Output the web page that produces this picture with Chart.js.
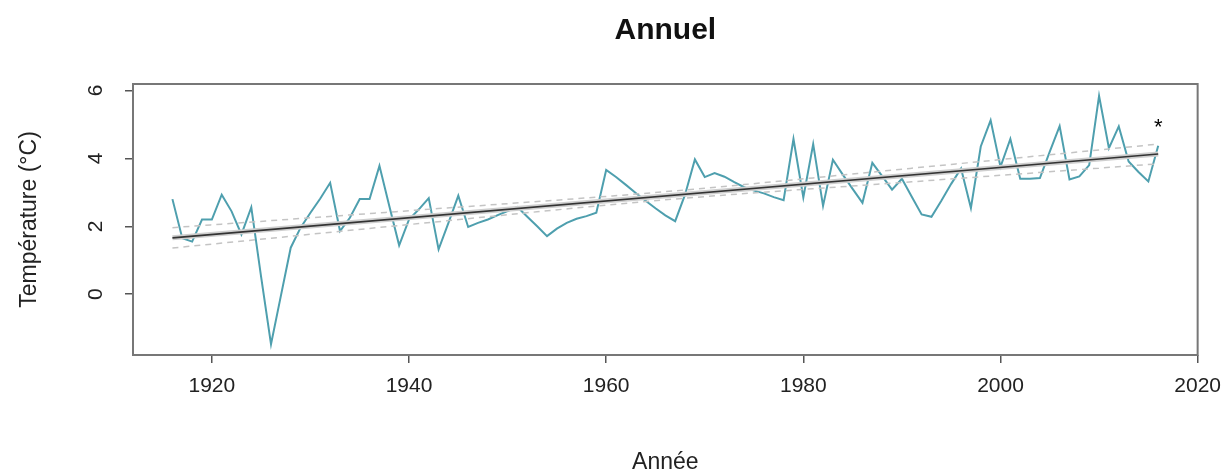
<!DOCTYPE html>
<html>
<head>
<meta charset="utf-8">
<script src="https://cdn.jsdelivr.net/npm/chart.js@4"></script>
<style>
  html, body { margin: 0; padding: 0; background: #fff; }
  #wrap { width: 1232px; height: 474px; }
</style>
</head>
<body>
<div id="wrap"><canvas id="chartbox" width="1232" height="474"></canvas></div>
<script>
// annual temperature, one value per year from firstYear
const firstYear = 1916
const temps = [
  2.80, 1.65, 1.55, 2.20, 2.20, 2.93, 2.44, 1.76, 2.56, 0.50,   // 1916-1925
  -1.47, -0.05, 1.37, 1.96, 2.40, 2.82, 3.28, 1.86, 2.25, 2.80, // 1926-1935
  2.80, 3.78, 2.60, 1.44, 2.20, 2.50, 2.83, 1.32, 2.10, 2.90,   // 1936-1945
  1.98, 2.10, 2.20, 2.33, 2.45, 2.57, 2.28, 2.00, 1.71, 1.93,   // 1946-1955
  2.10, 2.22, 2.30, 2.40, 3.66, 3.45, 3.22, 2.98, 2.75, 2.53,   // 1956-1965
  2.32, 2.15, 2.93, 3.97, 3.45, 3.57, 3.46, 3.30, 3.15, 3.05,   // 1966-1975
  2.97, 2.86, 2.77, 4.57, 2.85, 4.42, 2.60, 3.96, 3.52, 3.10,   // 1976-1985
  2.69, 3.87, 3.48, 3.08, 3.40, 2.87, 2.35, 2.28, 2.75, 3.25,   // 1986-1995
  3.70, 2.54, 4.35, 5.12, 3.75, 4.57, 3.40, 3.40, 3.42, 4.20,   // 1996-2005
  4.95, 3.38, 3.47, 3.80, 5.84, 4.30, 4.94, 3.91, 3.60, 3.32,   // 2006-2015
  4.37                                                          // 2016
]
const years = temps.map((t, i) => firstYear + i)

// linear trend and its confidence band
const trendYears = [1916, 2016]
const trendValues = [1.66, 4.13]
const bandYears = [1916, 1941, 1966, 1991, 2016]
const bandUpper = [1.96, 2.48, 3.02, 3.71, 4.42]
const bandLower = [1.36, 2.08, 2.78, 3.31, 3.84]

const xTicks = [1920, 1940, 1960, 1980, 2000, 2020]
const yTicks = [0, 2, 4, 6]
const xRange = [1912, 2020]
const yRange = [-1.79, 6.19]
const starMark = { year: 2016, value: 4.89, text: '*' }

const FONT = "'Liberation Sans', Arial, Helvetica, sans-serif"
const TEXT = '#222'

const toPoints = (xs, ys) => xs.map((x, i) => ({ x, y: ys[i] }))

const boxPlugin = {
  id: 'box',
  afterDatasetsDraw(chart) {
    const { ctx, chartArea: a, scales } = chart
    ctx.save()
    ctx.strokeStyle = '#777'
    ctx.lineWidth = 2
    ctx.strokeRect(a.left, a.top, a.right - a.left, a.bottom - a.top)
    // significance mark at the end of the trend
    ctx.fillStyle = '#000'
    ctx.font = '22px ' + FONT
    ctx.textAlign = 'center'
    ctx.textBaseline = 'middle'
    ctx.fillText(starMark.text, scales.x.getPixelForValue(starMark.year), scales.y.getPixelForValue(starMark.value))
    ctx.restore()
  }
}

new Chart(document.querySelector('#chartbox'), {
  type: 'line',
  data: {
    datasets: [
      {
        label: 'Température',
        data: toPoints(years, temps),
        borderColor: '#4e9fae',
        borderWidth: 2,
        pointRadius: 0,
        tension: 0,
        order: 4
      },
      {
        label: 'IC haut',
        data: toPoints(bandYears, bandUpper),
        borderColor: '#c4c4c4',
        borderWidth: 1.5,
        borderDash: [6, 5],
        pointRadius: 0,
        cubicInterpolationMode: 'monotone',
        order: 3
      },
      {
        label: 'IC bas',
        data: toPoints(bandYears, bandLower),
        borderColor: '#c4c4c4',
        borderWidth: 1.5,
        borderDash: [6, 5],
        pointRadius: 0,
        cubicInterpolationMode: 'monotone',
        order: 3
      },
      {
        label: 'Tendance (fond)',
        data: toPoints(trendYears, trendValues),
        borderColor: '#cfcfcf',
        borderWidth: 5,
        pointRadius: 0,
        order: 2
      },
      {
        label: 'Tendance',
        data: toPoints(trendYears, trendValues),
        borderColor: '#333',
        borderWidth: 1.6,
        pointRadius: 0,
        order: 1
      }
    ]
  },
  options: {
    responsive: false,
    animation: false,
    devicePixelRatio: 1,
    layout: { padding: { top: 0, left: 0, right: 30, bottom: 0 } },
    plugins: {
      legend: { display: false },
      tooltip: { enabled: false },
      title: {
        display: true,
        fullSize: false,
        text: 'Annuel',
        color: '#111',
        font: { family: FONT, size: 30, weight: 'bold' },
        padding: { top: 13, bottom: 35 }
      }
    },
    scales: {
      x: {
        type: 'linear',
        min: xRange[0],
        max: xRange[1],
        afterBuildTicks: (s) => { s.ticks = xTicks.map(v => ({ value: v })) },
        afterFit: (s) => { s.height = 119 },
        grid: { display: true, drawOnChartArea: false, drawTicks: true, tickLength: 8, color: '#555', lineWidth: 1.5 },
        border: { display: false },
        ticks: { color: TEXT, font: { family: FONT, size: 21 }, padding: 11, maxRotation: 0, autoSkip: false, callback: (v) => String(v) },
        title: { display: true, text: 'Année', color: TEXT, font: { family: FONT, size: 23 }, padding: { top: 0, bottom: -2 } }
      },
      y: {
        type: 'linear',
        min: yRange[0],
        max: yRange[1],
        afterBuildTicks: (s) => { s.ticks = yTicks.map(v => ({ value: v })) },
        afterFit: (s) => { s.width = 133 },
        grid: { display: true, drawOnChartArea: false, drawTicks: true, tickLength: 8, color: '#555', lineWidth: 1.5 },
        border: { display: false },
        ticks: { color: TEXT, font: { family: FONT, size: 21 }, padding: 23, minRotation: 90, maxRotation: 90, crossAlign: 'center', autoSkip: false, callback: (v) => String(v) },
        title: { display: true, text: 'Température (°C)', color: TEXT, font: { family: FONT, size: 23 }, padding: { top: 16, bottom: 0 } }
      }
    }
  },
  plugins: [boxPlugin]
})
</script>
</body>
</html>
